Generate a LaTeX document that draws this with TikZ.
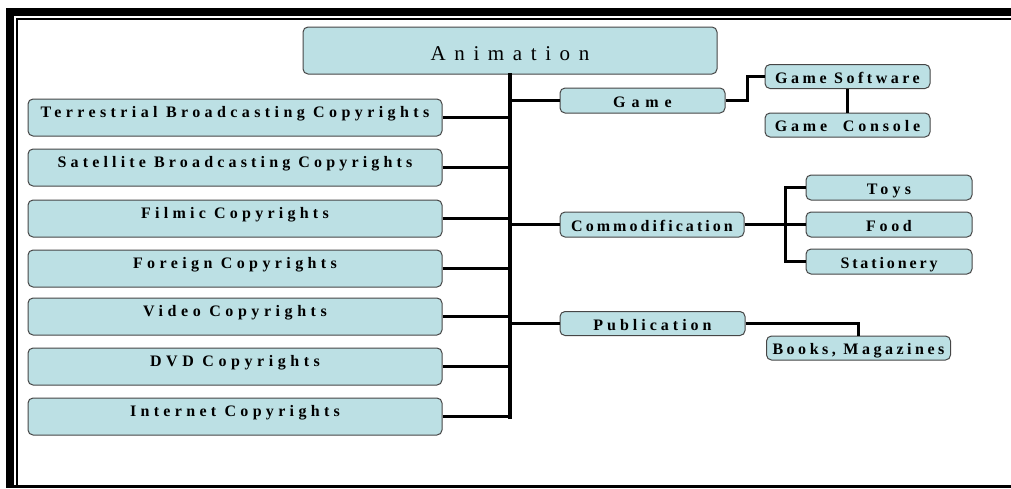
\documentclass[tikz,border=0pt]{standalone}
\usepackage{fontspec}
\setmainfont{Liberation Serif}
\definecolor{boxfill}{RGB}{188,224,228}
\definecolor{boxline}{RGB}{70,70,70}
\begin{document}
\begin{tikzpicture}[x=1pt,y=-1pt,
  bx/.style={draw=boxline, line width=1pt, fill=boxfill, rounded corners=5pt, inner sep=0pt},
  lbox/.style={bx, minimum width=414pt, minimum height=37pt, text height=11pt, text depth=12pt,
    font=\fontsize{16}{19}\selectfont\bfseries\addfontfeatures{LetterSpace=#1}},
  lbox/.default=27,
  sbox/.style={bx, minimum height=25pt, text height=13pt, text depth=0pt,
    font=\fontsize{16}{19}\selectfont\bfseries\addfontfeatures{LetterSpace=#1}},
  sbox/.default=24,
  ln/.style={line width=3pt},
  trunk/.style={line width=4pt, line cap=rect},
]
\useasboundingbox (0,0) rectangle (1011,488);
% frame
\fill[black] (6,8) rectangle (1011,16);
\fill[black] (16,18) rectangle (1011,20);
\fill[black] (6,8) rectangle (14,488);
\fill[black] (16,18) rectangle (18,488);
\fill[black] (6,485) rectangle (1011,488);

% nodes
\node[bx, minimum width=414pt, minimum height=47pt, text height=20pt, text depth=0pt,
  font=\fontsize{21}{24}\selectfont\addfontfeatures{LetterSpace=41}] (anim) at (510,50.5) {Animation};

\node[lbox=27.5] (ter) at (235,117.5) {Terrestrial Broadcasting Copyrights};
\node[lbox=26] (sat) at (235,167.5) {Satellite Broadcasting Copyrights};
\node[lbox=26.5] (fil) at (235,218.5) {Filmic Copyrights};
\node[lbox=27.5] (for) at (235,268.5) {Foreign Copyrights};
\node[lbox=28.5] (vid) at (235,316.5) {Video Copyrights};
\node[lbox=28.5] (dvd) at (235,366.5) {DVD Copyrights};
\node[lbox=27] (int) at (235,416.5) {Internet Copyrights};

\node[sbox=37, minimum width=165pt] (game) at (642.5,100.5) {Game};
\node[sbox=22, minimum width=165pt, minimum height=24pt] (gs) at (847.5,76.5) {Game Software};
\node[sbox=24, minimum width=165pt, minimum height=24pt] (gc) at (847.5,125) {Game\ \ Console};
\node[sbox=19, minimum width=184pt] (comm) at (652,224.5) {Commodification};
\node[sbox=27, minimum width=166pt] (toys) at (889,187.5) {Toys};
\node[sbox=23, minimum width=166pt] (food) at (889,224.5) {Food};
\node[sbox=18, minimum width=166pt] (stat) at (889,261.5) {Stationery};
\node[sbox=25, minimum width=185pt, minimum height=24pt] (pub) at (652.5,323.5) {Publication};
\node[sbox=22, minimum width=184pt, minimum height=24pt] (books) at (858.5,348) {Books, Magazines};

% connectors
\draw[trunk] (anim.south) -- (anim.south |- int.east);
\foreach \n in {ter,sat,fil,for,vid,dvd,int}
  \draw[ln] (\n.east) -- (\n.east -| anim.south);
\draw[ln] (game.west -| anim.south) -- (game.west);
\draw[ln] (comm.west -| anim.south) -- (comm.west);
\draw[ln] (pub.west -| anim.south) -- (pub.west);
\draw[ln] (game.east) -- ++(21.5,0) |- (gs.west);
\draw[ln] (gs.south) -- (gc.north);
\coordinate (cj) at (785.5,224.5);
\draw[ln] (comm.east) -- (cj);
\draw[ln] (toys.west) -| (cj) |- (stat.west);
\draw[ln] (cj) -- (cj -| food.west);
\draw[ln] (pub.east) -| (books.north);
\end{tikzpicture}
\end{document}
